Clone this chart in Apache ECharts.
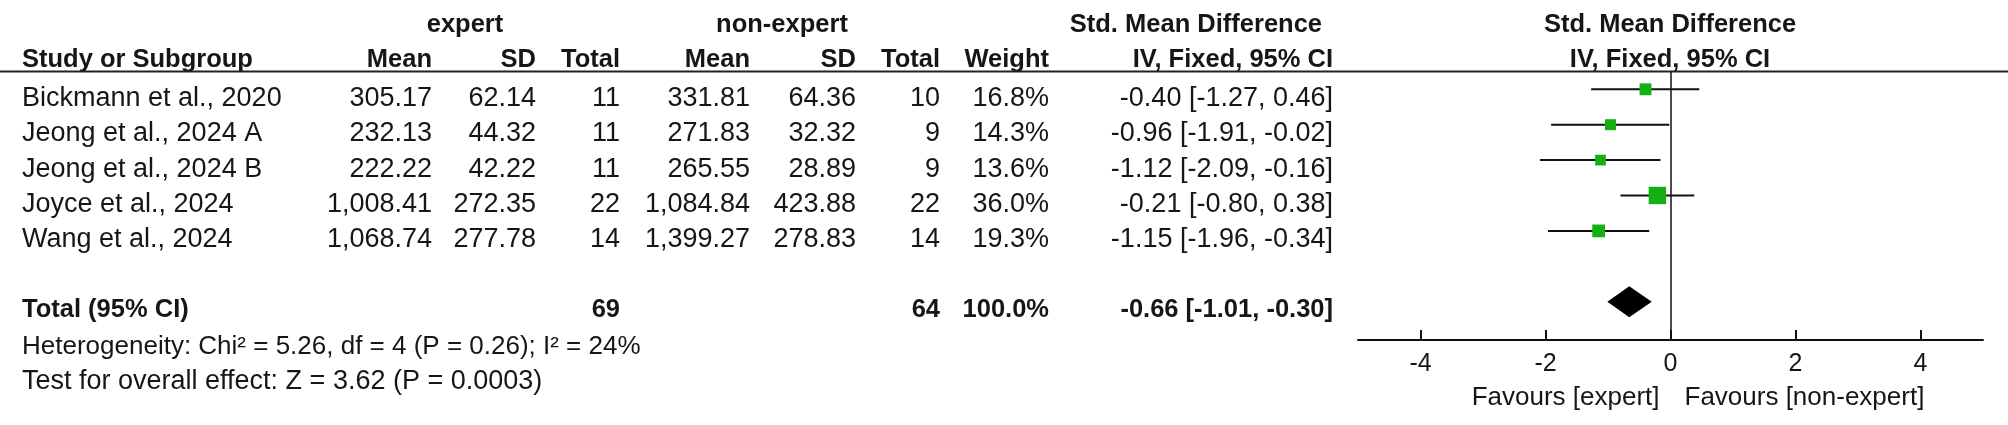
<!DOCTYPE html>
<html><head><meta charset="utf-8">
<script src="https://cdn.jsdelivr.net/npm/echarts@6/dist/echarts.min.js"></script>
<style>html,body{margin:0;padding:0;background:#fff}#c{width:2008px;height:425px}</style>
</head><body><div id="c"></div>
<script>
// ---- data ----
const studies = ['Bickmann et al., 2020','Jeong et al., 2024 A','Jeong et al., 2024 B','Joyce et al., 2024','Wang et al., 2024'];
const expMean = [305.17, 232.13, 222.22, 1008.41, 1068.74];
const expSD = [62.14, 44.32, 42.22, 272.35, 277.78];
const expN = [11, 11, 11, 22, 14];
const nonMean = [331.81, 271.83, 265.55, 1084.84, 1399.27];
const nonSD = [64.36, 32.32, 28.89, 423.88, 278.83];
const nonN = [10, 9, 9, 22, 14];
const weights = [16.8, 14.3, 13.6, 36.0, 19.3];
const smd = [-0.40, -0.96, -1.12, -0.21, -1.15];
const ciLow = [-1.27, -1.91, -2.09, -0.80, -1.96];
const ciHigh = [0.46, -0.02, -0.16, 0.38, -0.34];
const totalExpN = 69;
const totalNonN = 64;
const totalWeight = 100.0;
const pooledEst = -0.66;
const pooledLow = -1.01;
const pooledHigh = -0.30;
const heterogeneityText = 'Heterogeneity: Chi² = 5.26, df = 4 (P = 0.26); I² = 24%';
const overallText = 'Test for overall effect: Z = 3.62 (P = 0.0003)';
const xTicks = [-4, -2, 0, 2, 4];
const favourLeft = 'Favours [expert]';
const favourRight = 'Favours [non-expert]';
const groupLabels = ['expert', 'non-expert'];
const colHeaders = ['Study or Subgroup','Mean','SD','Total','Mean','SD','Total','Weight','IV, Fixed, 95% CI'];

// ---- layout / style ----
const FONT = '"Liberation Sans", Arial, sans-serif';
const FS = 27;
const FSB = 25.5;
const TXT = '#161616';
const GREEN = '#13b013';
const TOTAL_ROW = 6;

const chart = echarts.init(document.getElementById('c'), null, {renderer: 'canvas'});
const f2 = v => v.toLocaleString('en-US', {minimumFractionDigits: 2, maximumFractionDigits: 2});
const ci = (e, l, h) => f2(e) + ' [' + f2(l) + ', ' + f2(h) + ']';

chart.setOption({
  animation: false,
  backgroundColor: '#fff',
  grid: {left: 1358, top: 71.6, width: 625, height: 268.3},
  xAxis: {
    type: 'value', min: -5, max: 5,
    axisLine: {onZero: false, lineStyle: {color: '#111', width: 2}},
    axisTick: {show: true, inside: true, length: 10, customValues: xTicks, lineStyle: {color: '#111', width: 2}},
    axisLabel: {customValues: xTicks, margin: 12, fontSize: 25, color: TXT, fontFamily: FONT},
    splitLine: {show: false}
  },
  yAxis: {type: 'value', min: -0.5, max: 7.08, inverse: true, show: false},
  series: [
    {
      type: 'custom', name: 'ci',
      data: studies.map((s, i) => [ciLow[i], ciHigh[i], i]),
      encode: {x: [0, 1], y: 2},
      renderItem: (params, api) => {
        const a = api.coord([api.value(0), api.value(2)]);
        const b = api.coord([api.value(1), api.value(2)]);
        return {type: 'line', shape: {x1: a[0], y1: a[1], x2: b[0], y2: b[1]}, style: {stroke: '#111', lineWidth: 2}};
      },
      markLine: {
        silent: true, symbol: 'none', label: {show: false},
        lineStyle: {color: '#111', width: 1.5, type: 'solid'},
        data: [{xAxis: 0}]
      },
      z: 2
    },
    {
      type: 'scatter', name: 'smd',
      data: smd.map((v, i) => [v, i, weights[i]]),
      symbol: 'rect',
      symbolSize: d => 2.9 * Math.sqrt(d[2]),
      itemStyle: {color: GREEN, opacity: 1},
      z: 4
    },
    {
      type: 'custom', name: 'pooled',
      data: [[pooledEst, pooledLow, pooledHigh, TOTAL_ROW]],
      encode: {x: [0, 1, 2], y: 3},
      renderItem: (params, api) => {
        const y = api.value(3);
        const l = api.coord([api.value(1), y]);
        const c = api.coord([api.value(0), y]);
        const r = api.coord([api.value(2), y]);
        const hh = 15.5;
        return {type: 'polygon', shape: {points: [[l[0], l[1]], [c[0], c[1] - hh], [r[0], r[1]], [c[0], c[1] + hh]]}, style: {fill: '#000'}};
      },
      z: 4
    }
  ]
});

// ---- table text ----
const rowY = i => chart.convertToPixel({gridIndex: 0}, [0, i])[1];
const DY = 9;
const colX = {name: 22, eMean: 432, eSD: 536, eN: 620, nMean: 750, nSD: 856, nN: 940, weight: 1049, ci: 1333};
const g = [];
function t(text, x, y, align, bold, size) {
  g.push({type: 'text', x: x, y: y, silent: true,
    style: {text: String(text), fontSize: size || (bold ? FSB : FS), fontFamily: FONT, fontWeight: bold ? 'bold' : 'normal',
      fill: TXT, align: align, verticalAlign: 'middle'}});
}
// headers
const H1 = 25, H2 = 60;
t(groupLabels[0], 465, H1, 'center', true);
t(groupLabels[1], 782, H1, 'center', true);
t('Std. Mean Difference', 1322, H1, 'right', true);
t('Std. Mean Difference', 1670, H1, 'center', true);
t(colHeaders[0], colX.name, H2, 'left', true);
t(colHeaders[1], colX.eMean, H2, 'right', true);
t(colHeaders[2], colX.eSD, H2, 'right', true);
t(colHeaders[3], colX.eN, H2, 'right', true);
t(colHeaders[4], colX.nMean, H2, 'right', true);
t(colHeaders[5], colX.nSD, H2, 'right', true);
t(colHeaders[6], colX.nN, H2, 'right', true);
t(colHeaders[7], colX.weight, H2, 'right', true);
t(colHeaders[8], colX.ci, H2, 'right', true);
t(colHeaders[8], 1670, H2, 'center', true);
// header rule
const ruleY = rowY(-0.5);
g.push({type: 'line', silent: true, shape: {x1: 0, y1: ruleY, x2: 2008, y2: ruleY}, style: {stroke: '#222', lineWidth: 2}});
// study rows
studies.forEach((s, i) => {
  const y = rowY(i) + DY;
  t(s, colX.name, y, 'left');
  t(f2(expMean[i]), colX.eMean, y, 'right');
  t(f2(expSD[i]), colX.eSD, y, 'right');
  t(expN[i], colX.eN, y, 'right');
  t(f2(nonMean[i]), colX.nMean, y, 'right');
  t(f2(nonSD[i]), colX.nSD, y, 'right');
  t(nonN[i], colX.nN, y, 'right');
  t(weights[i].toFixed(1) + '%', colX.weight, y, 'right');
  t(ci(smd[i], ciLow[i], ciHigh[i]), colX.ci, y, 'right');
});
// total row
const ty = rowY(TOTAL_ROW) + 8;
t('Total (95% CI)', colX.name, ty, 'left', true);
t(totalExpN, colX.eN, ty, 'right', true);
t(totalNonN, colX.nN, ty, 'right', true);
t(totalWeight.toFixed(1) + '%', colX.weight, ty, 'right', true);
t(ci(pooledEst, pooledLow, pooledHigh), colX.ci, ty, 'right', true);
t(heterogeneityText, colX.name, 347, 'left', false, 26);
t(overallText, colX.name, 382, 'left');
// favours
const zeroX = chart.convertToPixel({gridIndex: 0}, [0, 0])[0];
t(favourLeft, zeroX - 11, 398, 'right', false, 26);
t(favourRight, zeroX + 14, 398, 'left', false, 26);

chart.setOption({graphic: {elements: g}});
</script>
</body></html>
